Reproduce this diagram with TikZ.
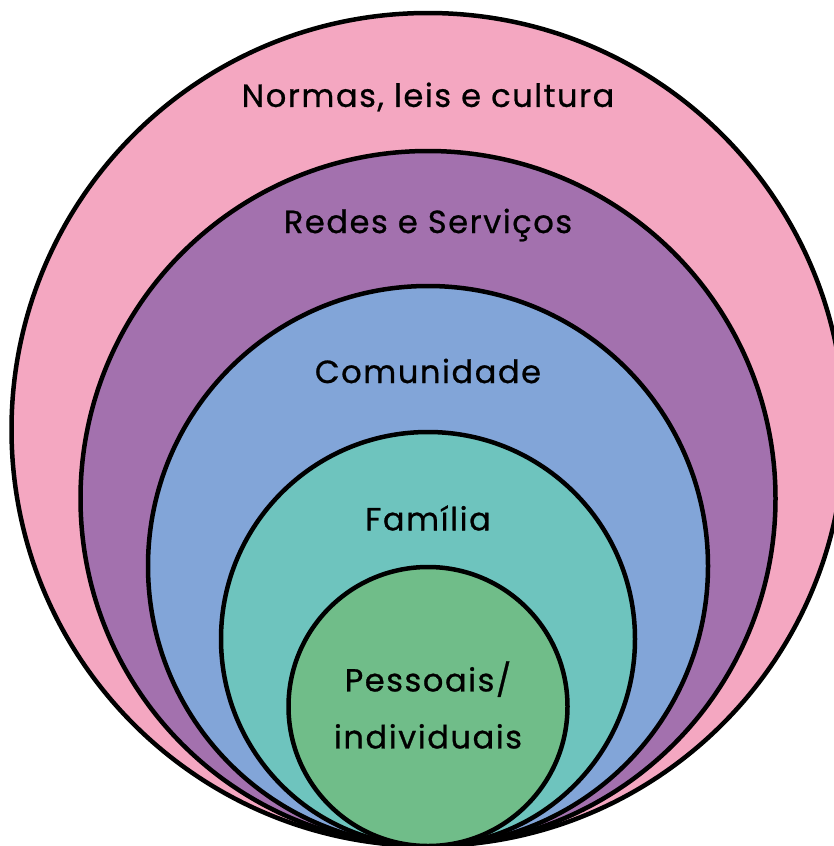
\documentclass[tikz,border=0pt]{standalone}
\usepackage{fontspec}
\setmainfont{Poppins}[LetterSpace=5, FakeBold=0.8]
\definecolor{cpink}{RGB}{244,167,193}
\definecolor{cpurple}{RGB}{163,113,174}
\definecolor{cblue}{RGB}{130,165,216}
\definecolor{cteal}{RGB}{110,196,190}
\definecolor{cgreen}{RGB}{112,189,137}
\begin{document}
\begin{tikzpicture}[x=1pt,y=-1pt,
  ring/.style={draw=black,line width=4.5pt},
  lbl/.style={font=\fontsize{32}{57}\selectfont,text=black,align=center,inner sep=0pt}]
\useasboundingbox (0,0) rectangle (834,846);
\clip (0,0) rectangle (834,846);
\draw[ring,fill=cpink]   (428,429.5) circle (416.5);
\draw[ring,fill=cpurple] (428,498.5) circle (347.5);
\draw[ring,fill=cblue]   (428,566)   circle (280);
\draw[ring,fill=cteal]   (428,639)   circle (207);
\draw[ring,fill=cgreen]  (428,706.5) circle (139.5);
\node[lbl] (normas) at (428,97) {Normas, leis e cultura};
\node[lbl] (redes) at (428,225) {Redes e Serviços};
\node[lbl] (comunidade) at (428,371) {Comunidade};
\node[lbl] (familia) at (428,518) {Família};
\node[lbl] (pessoais) at (428,705) {Pessoais/\\individuais};
\end{tikzpicture}
\end{document}
